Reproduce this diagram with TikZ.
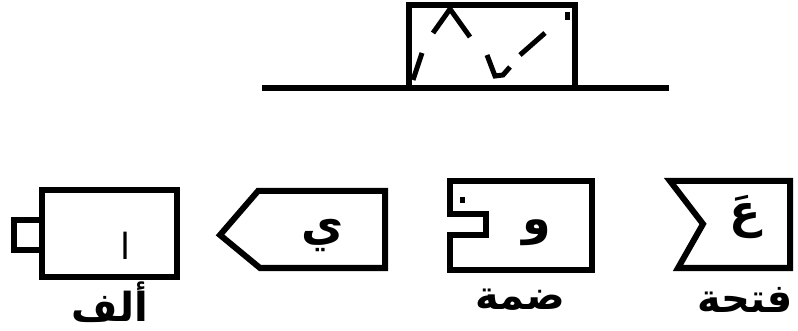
\documentclass[tikz,border=0pt]{standalone}
\usepackage{fontspec}
\newfontfamily\arabicfont[Script=Arabic]{DejaVu Sans}
\TeXXeTstate=1
\begin{document}
\begin{tikzpicture}[x=1pt,y=-1pt,
  shp/.style={draw=black,line width=6pt,line join=miter},
  stroke/.style={draw=black,line width=5pt,line cap=butt},
  letter/.style={font=\arabicfont\bfseries\fontsize{46}{50}\selectfont,inner sep=0pt},
  lbl/.style={font=\arabicfont\bfseries\fontsize{40}{44}\selectfont,inner sep=0pt}]
\useasboundingbox (0,0) rectangle (798,331);
% top box on line
\draw[shp] (262,88) -- (669,88);
\draw[shp] (409,88) -- (409,5) -- (575,5) -- (575,88);
\draw[stroke] (433,33) -- (450,9) -- (470,37);
\draw[stroke] (422,53) -- (413,80);
\draw[stroke] (487,55) -- (495,76) -- (503,75) -- (510,67);
\draw[stroke] (520,55) -- (545,33);
\draw[stroke] (567,12) -- (567,20);
% alef box
\draw[shp] (42,190) rectangle (177,277);
\draw[shp] (14,220) rectangle (42,250);
\node[font=\arabicfont\fontsize{36}{40}\selectfont,inner sep=0pt] (alef) at (125,246) {\beginR ا\endR};
\node[lbl] (lalef) at (110,302) {\beginR ألف\endR};
% ya box
\draw[shp] (258,191) -- (385,191) -- (385,268) -- (260,268) -- (220,235) -- cycle;
\node[letter] (ya) at (323,235) {\beginR ي\endR};
% waw box
\draw[shp] (450,181) -- (592,181) -- (592,270) -- (450,270) -- (450,235) -- (486,235) -- (486,214) -- (450,214) -- cycle;
\draw[stroke] (462,197) -- (462,203);
\node[letter] (waw) at (537,233) {\beginR و\endR};
\node[lbl] (ldamma) at (520,300) {\beginR ضمة\endR};
% fatha box
\draw[shp] (670,181) -- (790,181) -- (790,268) -- (678,268) -- (703,224) -- cycle;
\node[letter] (ain) at (745,217) {\beginR عَ\endR};
\node[lbl] (lfatha) at (745,300) {\beginR فتحة\endR};
\end{tikzpicture}
\end{document}
